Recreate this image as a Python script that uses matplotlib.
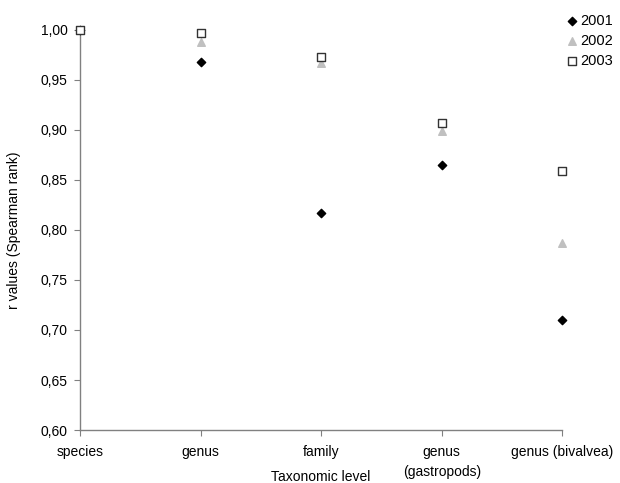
import matplotlib
matplotlib.use("Agg")
import matplotlib.pyplot as plt
from matplotlib.ticker import FuncFormatter

plt.rcParams['font.family'] = ['Liberation Sans', 'DejaVu Sans']

# taxonomic levels on the x axis
levels = ['species', 'genus', 'family', 'genus\n(gastropods)', 'genus (bivalvea)']

# r values (Spearman rank) per year
r_2001 = [1.000, 0.968, 0.817, 0.865, 0.710]
r_2002 = [1.000, 0.988, 0.967, 0.899, 0.787]
r_2003 = [1.000, 0.997, 0.973, 0.907, 0.859]

x = list(range(len(levels)))

fig = plt.figure(figsize=(6.2, 4.83), dpi=100)
ax = fig.add_axes([0.129, 0.1097, 0.778, 0.8283])

ax.scatter(x, r_2001, marker='D', s=18, color='black', label='2001', clip_on=False, zorder=3)
ax.scatter(x, r_2002, marker='^', s=30, color='#c0c0c0', label='2002', clip_on=False, zorder=4)
ax.scatter(x, r_2003, marker='s', s=36, facecolor='white', edgecolor='#333333',
           linewidths=1.0, label='2003', clip_on=False, zorder=5)

ax.set_xlim(0, 4)
ax.set_ylim(0.60, 1.00)
ax.set_yticks([0.60, 0.65, 0.70, 0.75, 0.80, 0.85, 0.90, 0.95, 1.00])
ax.yaxis.set_major_formatter(FuncFormatter(lambda v, p: f"{v:.2f}".replace('.', ',')))
ax.set_xticks(x)
ax.set_xticklabels(levels, linespacing=1.5)

for s in ['top', 'right']:
    ax.spines[s].set_visible(False)
for s in ['left', 'bottom']:
    ax.spines[s].set_color('#808080')
    ax.spines[s].set_linewidth(1.0)
ax.tick_params(axis='both', colors='#808080', length=4, labelcolor='black', labelsize=10)
ax.tick_params(axis='x', pad=7)
ax.tick_params(axis='y', pad=5)

ax.set_xlabel('Taxonomic level', fontsize=10, labelpad=-6)
ax.set_ylabel('r values (Spearman rank)', fontsize=10, labelpad=14)

fig.legend(loc='upper right', bbox_to_anchor=(1.005, 0.993), frameon=False, fontsize=10.5,
           handletextpad=0.05, labelspacing=0.42, handlelength=1.0, borderaxespad=0.3)

fig.savefig('out.png', dpi=100)
